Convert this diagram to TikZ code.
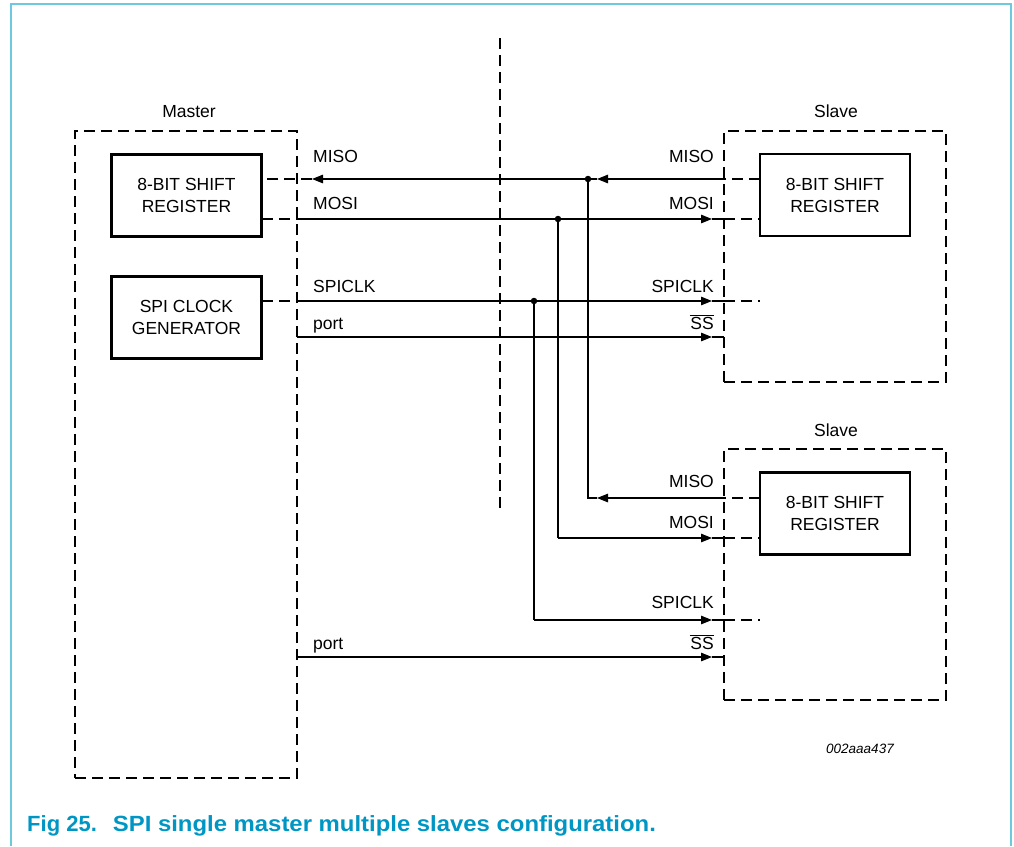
\documentclass[tikz,border=0pt]{standalone}
\usepackage{fontspec}
\setmainfont{Liberation Sans}
\usetikzlibrary{arrows.meta}
\definecolor{framecol}{RGB}{110,200,222}
\definecolor{capblue}{RGB}{0,150,196}
\begin{document}
\begin{tikzpicture}[x=1pt,y=-1pt,
  regbox/.style={draw, line width=2.4pt, minimum width=150pt, minimum height=82pt, align=center, inner sep=0pt, font=\fontsize{17.5}{22}\selectfont},
  dbox/.style={draw, line width=1.2pt, dash pattern=on 11pt off 6pt, inner sep=0pt},
  sig/.style={line width=1.2pt},
  dsig/.style={line width=1.2pt, dash pattern=on 11pt off 6pt},
  arr/.style={sig, -{Triangle[length=11pt,width=8.5pt]}},
  lbl/.style={font=\fontsize{17.5}{22}\selectfont, inner sep=0pt},
  jdot/.style={circle, fill, inner sep=0pt, minimum size=6.5pt}
]
\useasboundingbox (0,0) rectangle (1014,846);
% outer frame
\draw[framecol, line width=1.4pt] (11,846) -- (11,4) -- (1011,4) -- (1011,846);

% dashed boxes
\node[dbox, minimum width=222pt, minimum height=647pt] (master) at (186,454.5) {};
\node[dbox, minimum width=222pt, minimum height=251pt] (slaveA) at (835,256.5) {};
\node[dbox, minimum width=222pt, minimum height=251pt] (slaveB) at (835,574.5) {};
\node[lbl, anchor=base] (mlab) at (189,117) {Master};
\node[lbl, anchor=base] (s1lab) at (836,117) {Slave};
\node[lbl, anchor=base] (s2lab) at (836,436) {Slave};

% vertical divider
\coordinate (dtop) at (500,38);
\coordinate (dbot) at (500,510);
\draw[dsig] (dtop) -- (dbot);

% registers
\node[regbox] (mreg) at (186.5,195.5) {8-BIT SHIFT\\REGISTER};
\node[regbox] (mclk) at (186.5,317.5) {SPI CLOCK\\GENERATOR};
\node[regbox] (s1reg) at (835,195) {8-BIT SHIFT\\REGISTER};
\node[regbox] (s2reg) at (835,513.5) {8-BIT SHIFT\\REGISTER};

% coordinates
\coordinate (misoL) at (262,179);
\coordinate (misoTipL) at (312,179);
\coordinate (misoJ) at (588,179);
\coordinate (misoTipR) at (597,179);
\coordinate (misoS) at (724,179);
\coordinate (misoR) at (760,179);

\coordinate (mosiL) at (262,219);
\coordinate (mosiM) at (297,219);
\coordinate (mosiJ) at (558,219);
\coordinate (mosiTip) at (712,219);
\coordinate (mosiS) at (724,219);
\coordinate (mosiR) at (760,219);

\coordinate (clkL) at (262,301);
\coordinate (clkM) at (297,301);
\coordinate (clkJ) at (534,301);
\coordinate (clkTip) at (712,301);
\coordinate (clkS) at (724,301);
\coordinate (clkR) at (760,301);

\coordinate (portM) at (297,337);
\coordinate (portTip) at (712,337);
\coordinate (portS) at (724,337);

\coordinate (miso2R) at (760,498);
\coordinate (miso2S) at (724,498);
\coordinate (miso2Tip) at (597,498);
\coordinate (miso2C) at (588,498);

\coordinate (mosi2C) at (558,538);
\coordinate (mosi2Tip) at (712,538);
\coordinate (mosi2S) at (724,538);
\coordinate (mosi2R) at (760,538);

\coordinate (clk2C) at (534,620);
\coordinate (clk2Tip) at (712,620);
\coordinate (clk2S) at (724,620);
\coordinate (clk2R) at (760,620);

\coordinate (port2M) at (297,657);
\coordinate (port2Tip) at (712,657);
\coordinate (port2S) at (724,657);

% MISO (slave 1)
\draw[dsig] (misoR) -- (misoS);
\draw[arr] (misoS) -- (misoTipR);
\draw[sig] (misoTipR) -- (misoJ);
\draw[arr] (misoJ) -- (misoTipL);
\draw[dsig] (misoTipL) -- (misoL);
% MOSI
\draw[dsig] (mosiL) -- (mosiM);
\draw[arr] (mosiM) -- (mosiTip);
\draw[sig] (mosiTip) -- (mosiS);
\draw[dsig] (mosiS) -- (mosiR);
% SPICLK
\draw[dsig] (clkL) -- (clkM);
\draw[arr] (clkM) -- (clkTip);
\draw[sig] (clkTip) -- (clkS);
\draw[dsig] (clkS) -- (clkR);
% port
\draw[arr] (portM) -- (portTip);
\draw[sig] (portTip) -- (portS);

% slave 2 MISO
\draw[dsig] (miso2R) -- (miso2S);
\draw[arr] (miso2S) -- (miso2Tip);
\draw[sig] (miso2Tip) -- (miso2C) -- (misoJ);
% slave 2 MOSI
\draw[sig] (mosiJ) -- (mosi2C);
\draw[arr] (mosi2C) -- (mosi2Tip);
\draw[sig] (mosi2Tip) -- (mosi2S);
\draw[dsig] (mosi2S) -- (mosi2R);
% slave 2 SPICLK
\draw[sig] (clkJ) -- (clk2C);
\draw[arr] (clk2C) -- (clk2Tip);
\draw[sig] (clk2Tip) -- (clk2S);
\draw[dsig] (clk2S) -- (clk2R);
% port 2
\draw[arr] (port2M) -- (port2Tip);
\draw[sig] (port2Tip) -- (port2S);

% junction dots
\node[jdot] (dmiso) at (misoJ) {};
\node[jdot] (dmosi) at (mosiJ) {};
\node[jdot] (dclk) at (clkJ) {};

% labels left
\node[lbl, anchor=base west] (lmiso) at (313,162) {MISO};
\node[lbl, anchor=base west] (lmosi) at (313,209) {MOSI};
\node[lbl, anchor=base west] (lclk) at (313,292) {SPICLK};
\node[lbl, anchor=base west] (lport) at (313,329) {port};
\node[lbl, anchor=base west] (lport2) at (313,649) {port};
% labels right slave 1
\node[lbl, anchor=base east] (rmiso) at (714,162) {MISO};
\node[lbl, anchor=base east] (rmosi) at (714,209) {MOSI};
\node[lbl, anchor=base east] (rclk) at (714,292) {SPICLK};
\node[lbl, anchor=base east] (rss) at (714,329) {$\overline{\hbox{SS}}$};
% labels right slave 2
\node[lbl, anchor=base east] (r2miso) at (714,487) {MISO};
\node[lbl, anchor=base east] (r2mosi) at (714,528) {MOSI};
\node[lbl, anchor=base east] (r2clk) at (714,608) {SPICLK};
\node[lbl, anchor=base east] (r2ss) at (714,649) {$\overline{\hbox{SS}}$};

% id and caption
\node[anchor=base west, inner sep=0pt, font=\itshape\fontsize{13.5}{16}\selectfont] (fid) at (826,753) {002aaa437};
\node[anchor=base west, inner sep=0pt, text=capblue, font=\bfseries\fontsize{22}{26}\selectfont] (cap) at (27,831) {Fig 25.\hspace{16pt}\scalebox{1.086}[1]{SPI single master multiple slaves configuration.}};
\end{tikzpicture}
\end{document}
